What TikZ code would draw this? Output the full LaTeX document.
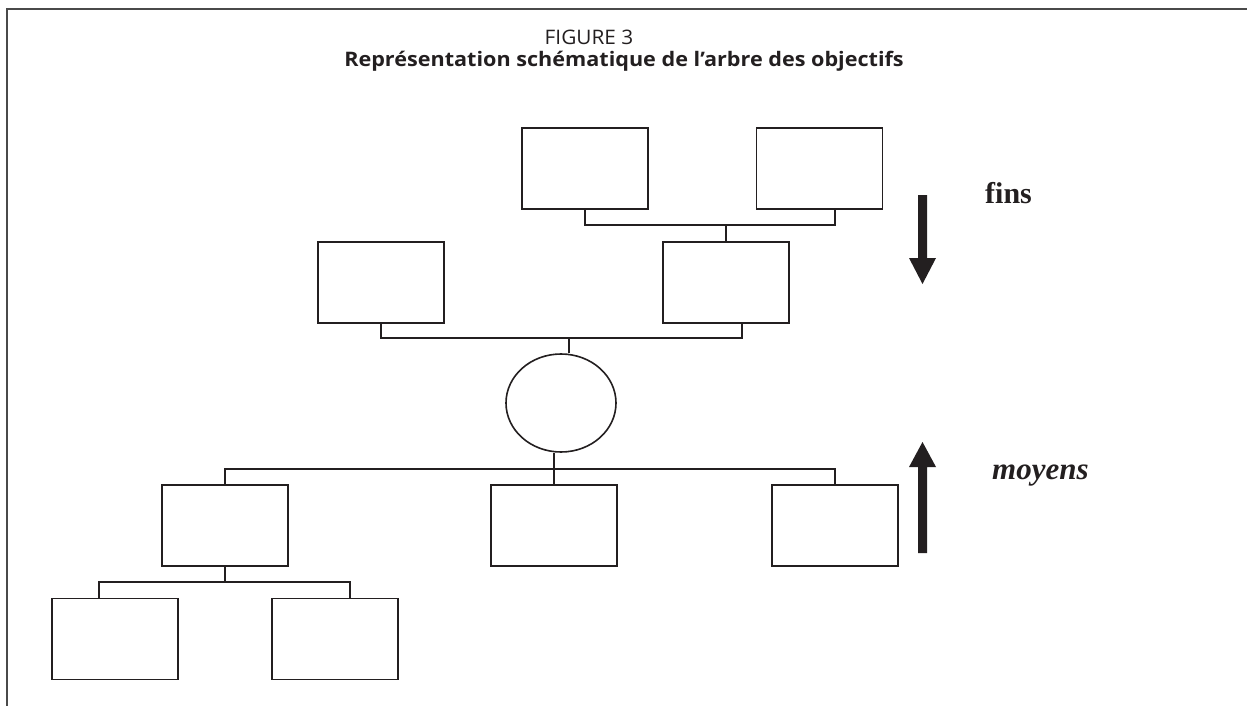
\documentclass[tikz,border=0pt]{standalone}
\usepackage{fontspec}
\setmainfont{Liberation Serif}
\newfontfamily\titlefont{Open Sans}
\usetikzlibrary{shapes.geometric,calc}
\definecolor{ink}{HTML}{231F20}
\definecolor{rule}{HTML}{4A4A4A}
\begin{document}
\begin{tikzpicture}[x=1pt,y=-1pt,
  box/.style={draw=ink,line width=1.6pt,rectangle,minimum width=126pt,minimum height=81pt,inner sep=0pt},
  oval/.style={draw=ink,line width=1.6pt,ellipse,minimum width=110pt,minimum height=98pt,inner sep=0pt},
  link/.style={draw=ink,line width=1.6pt},
  bigarrow/.style={fill=ink,draw=none},
  frame/.style={draw=rule,line width=2pt},
  label/.style={text=ink,inner sep=0pt}]
\useasboundingbox (0,0) rectangle (1247,706);

% frame
\draw[frame] (7,706) -- (7,9) -- (1247,9);

% title
\node[label,anchor=base,font=\titlefont\fontsize{20}{23}\selectfont] (t1) at (589,45) {\scalebox{1.04}[1]{FIGURE 3}};
\node[label,anchor=base,font=\titlefont\bfseries\fontsize{20}{23}\selectfont] (t2) at (624,67)
  {\scalebox{1.08}[1]{Représentation schématique de l’arbre des objectifs}};

% boxes
\node[box] (A) at (585,168.5) {};
\node[box] (B) at (819.5,168.5) {};
\node[box] (C) at (381,282.5) {};
\node[box] (D) at (726,282.5) {};
\node[oval] (O) at (561,403) {};
\node[box] (E) at (225,525.5) {};
\node[box] (F) at (554,525.5) {};
\node[box] (G) at (835,525.5) {};
\node[box] (H) at (115,639) {};
\node[box] (I) at (335,639) {};

% junction points
\coordinate (j1) at (726,225);
\coordinate (j2) at (569,338);
\coordinate (j3) at (554,469);
\coordinate (j4) at (225,582);

% connectors
\draw[link] (A.south) |- (j1);
\draw[link] ([xshift=15.5pt]B.south) |- (j1);
\draw[link] (j1) -- (D.north);
\draw[link] (C.south) |- (j2);
\draw[link] ([xshift=16pt]D.south) |- (j2);
\draw[link] (j2) -- ([xshift=8pt]O.north);
\draw[link] ([xshift=-7pt]O.south) -- (j3);
\draw[link] (E.north) |- (j3);
\draw[link] (G.north) |- (j3);
\draw[link] (j3) -- (F.north);
\draw[link] (E.south) -- (j4);
\draw[link] ([xshift=-16pt]H.north) |- (j4);
\draw[link] ([xshift=15pt]I.north) |- (j4);

% direction arrows
\fill[bigarrow] (918,195) -- (927,195) -- (927,258) -- (936,258) -- (922.5,284) -- (909,258) -- (918,258) -- cycle;
\fill[bigarrow] (918,553) -- (927,553) -- (927,467) -- (936,467) -- (922.5,442) -- (909,467) -- (918,467) -- cycle;

% side labels
\node[label,anchor=base west,font=\bfseries\fontsize{30}{34}\selectfont] (fins) at (985,203) {fins};
\node[label,anchor=base west,font=\bfseries\itshape\fontsize{31}{35}\selectfont] (moyens) at (992,479) {moyens};
\end{tikzpicture}
\end{document}
